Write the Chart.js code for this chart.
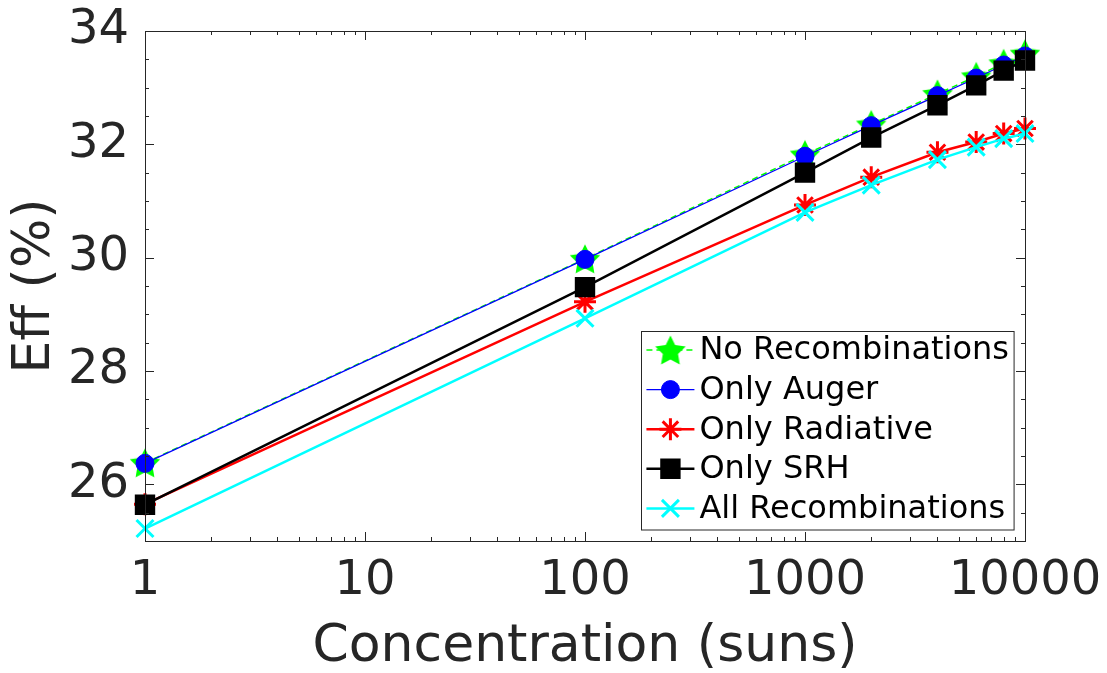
<!DOCTYPE html>
<html>
<head>
<meta charset="utf-8">
<script src="https://cdn.jsdelivr.net/npm/chart.js@4.4.1/dist/chart.umd.min.js"></script>
<style>
  html, body { margin: 0; padding: 0; background: #fff; }
  #wrap { width: 1107px; height: 673px; }
</style>
</head>
<body>
<div id="wrap"><canvas id="effChart" width="1107" height="673"></canvas></div>
<script>
const concentration = [1, 100, 1000, 2000, 4000, 6000, 8000, 10000];
const noRecomb = [26.38, 29.98, 31.82, 32.35, 32.89, 33.2, 33.43, 33.6];
const onlyAuger = [26.37, 29.97, 31.79, 32.33, 32.86, 33.17, 33.4, 33.56];
const onlyRadiative = [25.65, 29.22, 30.93, 31.42, 31.86, 32.04, 32.19, 32.28];
const onlySRH = [25.64, 29.48, 31.5, 32.12, 32.69, 33.04, 33.3, 33.48];
const allRecomb = [25.22, 28.93, 30.8, 31.28, 31.73, 31.95, 32.1, 32.19];
const xTicks = [1, 10, 100, 1000, 10000];
const yTicks = [26, 28, 30, 32, 34];

const FONT = "'DejaVu Sans', 'Liberation Sans', sans-serif";
const AXIS_COLOR = "#262626";

const toPoints = (ys) => concentration.map((x, i) => ({ x, y: ys[i] }));

// filled pentagram, matlab style 'p' marker
const makeStar = (color, size) => {
  const c = document.createElement("canvas");
  c.width = size;
  c.height = size;
  const ctx = c.getContext("2d");
  const r = size / 2;
  const ri = r * 0.5;
  ctx.beginPath();
  for (let i = 0; i < 10; i++) {
    const a = -Math.PI / 2 + (i * Math.PI) / 5;
    const rr = i % 2 === 0 ? r : ri;
    ctx.lineTo(r + rr * Math.cos(a), r + 1.5 + rr * Math.sin(a));
  }
  ctx.closePath();
  ctx.fillStyle = color;
  ctx.fill();
  return c;
};

const greenStar = makeStar("#00ff00", 32);

const datasets = [
  {
    label: "No Recombinations",
    data: toPoints(noRecomb),
    borderColor: "#00ff00",
    borderWidth: 1.5,
    borderDash: [6, 4],
    pointStyle: greenStar,
    pointBackgroundColor: "#00ff00",
    pointBorderColor: "#00ff00",
    pointBorderWidth: 0,
    pointRadius: 16,
    order: 5,
  },
  {
    label: "Only Auger",
    data: toPoints(onlyAuger),
    borderColor: "#0000ff",
    borderWidth: 1.2,
    pointStyle: "circle",
    pointBackgroundColor: "#0000ff",
    pointBorderColor: "#0000ff",
    pointBorderWidth: 1,
    pointRadius: 9,
    order: 4,
  },
  {
    label: "Only Radiative",
    data: toPoints(onlyRadiative),
    borderColor: "#ff0000",
    borderWidth: 2.5,
    pointStyle: "star",
    pointBackgroundColor: "#ff0000",
    pointBorderColor: "#ff0000",
    pointBorderWidth: 3,
    pointRadius: 11,
    order: 3,
  },
  {
    label: "Only SRH",
    data: toPoints(onlySRH),
    borderColor: "#000000",
    borderWidth: 2.5,
    pointStyle: "rect",
    pointBackgroundColor: "#000000",
    pointBorderColor: "#000000",
    pointBorderWidth: 2,
    pointRadius: 13,
    order: 2,
  },
  {
    label: "All Recombinations",
    data: toPoints(allRecomb),
    borderColor: "#00ffff",
    borderWidth: 2.5,
    pointStyle: "crossRot",
    pointBackgroundColor: "#00ffff",
    pointBorderColor: "#00ffff",
    pointBorderWidth: 3,
    pointRadius: 12,
    order: 1,
  },
];
datasets.forEach((d) => (d.clip = false));

// box around the axes with inward ticks, like matlab
const boxTicks = {
  id: "boxTicks",
  afterDatasetsDraw(chart) {
    const { ctx, chartArea: a, scales } = chart;
    const xs = scales.x;
    const ys = scales.y;
    ctx.save();
    ctx.strokeStyle = AXIS_COLOR;
    ctx.lineWidth = 1;
    ctx.strokeRect(a.left + 0.5, a.top + 0.5, a.width, a.height);
    ctx.beginPath();
    const xTick = (v, len) => {
      const px = Math.round(xs.getPixelForValue(v)) + 0.5;
      ctx.moveTo(px, a.bottom);
      ctx.lineTo(px, a.bottom - len);
      ctx.moveTo(px, a.top);
      ctx.lineTo(px, a.top + len);
    };
    const yTick = (v, len) => {
      const py = Math.round(ys.getPixelForValue(v)) + 0.5;
      ctx.moveTo(a.left, py);
      ctx.lineTo(a.left + len, py);
      ctx.moveTo(a.right, py);
      ctx.lineTo(a.right - len, py);
    };
    xTicks.forEach((v) => xTick(v, 9));
    for (let d = 0; d < 4; d++) {
      for (let m = 2; m < 10; m++) xTick(m * Math.pow(10, d), 4);
    }
    yTicks.forEach((v) => yTick(v, 9));
    for (let v = 25; v <= 34; v += 0.5) {
      if (!yTicks.includes(v)) yTick(v, 4);
    }
    ctx.stroke();
    ctx.restore();
  },
};

// legend drawn inside the plot, lower right
const insideLegend = {
  id: "insideLegend",
  afterDraw(chart) {
    const { ctx, chartArea: a } = chart;
    const items = chart.data.datasets;
    const rowH = 39.6;
    ctx.save();
    ctx.font = `32px ${FONT}`;
    const textW = Math.max(...items.map((d) => ctx.measureText(d.label).width));
    const w = 58 + textW + 5;
    const h = rowH * items.length + 0.5;
    const left = a.right - 11 - w;
    const top = a.bottom - 12 - h;
    ctx.fillStyle = "#fff";
    ctx.fillRect(left, top, w, h);
    ctx.strokeStyle = AXIS_COLOR;
    ctx.lineWidth = 1;
    ctx.strokeRect(Math.round(left) + 0.5, Math.round(top) + 0.5, w, h);

    items.forEach((d, i) => {
      const cy = top + 19.5 + i * rowH;
      ctx.save();
      ctx.strokeStyle = d.borderColor;
      ctx.lineWidth = d.borderWidth;
      ctx.setLineDash(d.borderDash || []);
      ctx.beginPath();
      ctx.moveTo(left + 5, cy);
      ctx.lineTo(left + 53, cy);
      ctx.stroke();
      ctx.setLineDash([]);
      ctx.fillStyle = d.pointBackgroundColor;
      ctx.strokeStyle = d.pointBorderColor;
      ctx.lineWidth = d.pointBorderWidth;
      Chart.helpers.drawPoint(
        ctx,
        { pointStyle: d.pointStyle, rotation: 0, radius: d.pointRadius, borderWidth: d.pointBorderWidth },
        left + 29,
        cy
      );
      ctx.restore();
      ctx.fillStyle = "#000";
      ctx.textBaseline = "middle";
      ctx.textAlign = "left";
      ctx.fillText(d.label, left + 58, cy + 1);
    });
    ctx.restore();
  },
};

const config = {
  type: "line",
  data: { datasets },
  options: {
    responsive: false,
    animation: false,
    layout: { padding: { top: 31, right: 82, left: 0, bottom: 0 } },
    elements: { line: { tension: 0 } },
    plugins: {
      legend: { display: false },
      tooltip: { enabled: false },
    },
    scales: {
      x: {
        type: "logarithmic",
        min: 1,
        max: 10000,
        afterBuildTicks: (s) => {
          s.ticks = xTicks.map((v) => ({ value: v, major: true }));
        },
        afterFit: (s) => {
          s.height = 132;
          s.paddingLeft = 0;
          s.paddingRight = 0;
        },
        grid: { display: false },
        border: { display: false },
        ticks: {
          autoSkip: false,
          maxRotation: 0,
          padding: 4,
          color: AXIS_COLOR,
          font: { family: FONT, size: 48 },
          callback: (v) => String(v),
        },
        title: {
          display: true,
          text: "Concentration (suns)",
          color: AXIS_COLOR,
          font: { family: FONT, size: 52, lineHeight: 1 },
          padding: { top: 0, bottom: 0 },
        },
      },
      y: {
        min: 25,
        max: 34,
        afterBuildTicks: (s) => {
          s.ticks = yTicks.map((v) => ({ value: v }));
        },
        afterFit: (s) => {
          s.width = 145;
          s.paddingTop = 0;
          s.paddingBottom = 0;
        },
        grid: { display: false },
        border: { display: false },
        ticks: {
          padding: 8,
          color: AXIS_COLOR,
          font: { family: FONT, size: 48 },
        },
        title: {
          display: true,
          text: "Eff (%)",
          color: AXIS_COLOR,
          font: { family: FONT, size: 52 },
          padding: { top: 4, bottom: 0 },
        },
      },
    },
  },
  plugins: [boxTicks, insideLegend],
};

new Chart(document.getElementById("effChart"), config);
</script>
</body>
</html>
